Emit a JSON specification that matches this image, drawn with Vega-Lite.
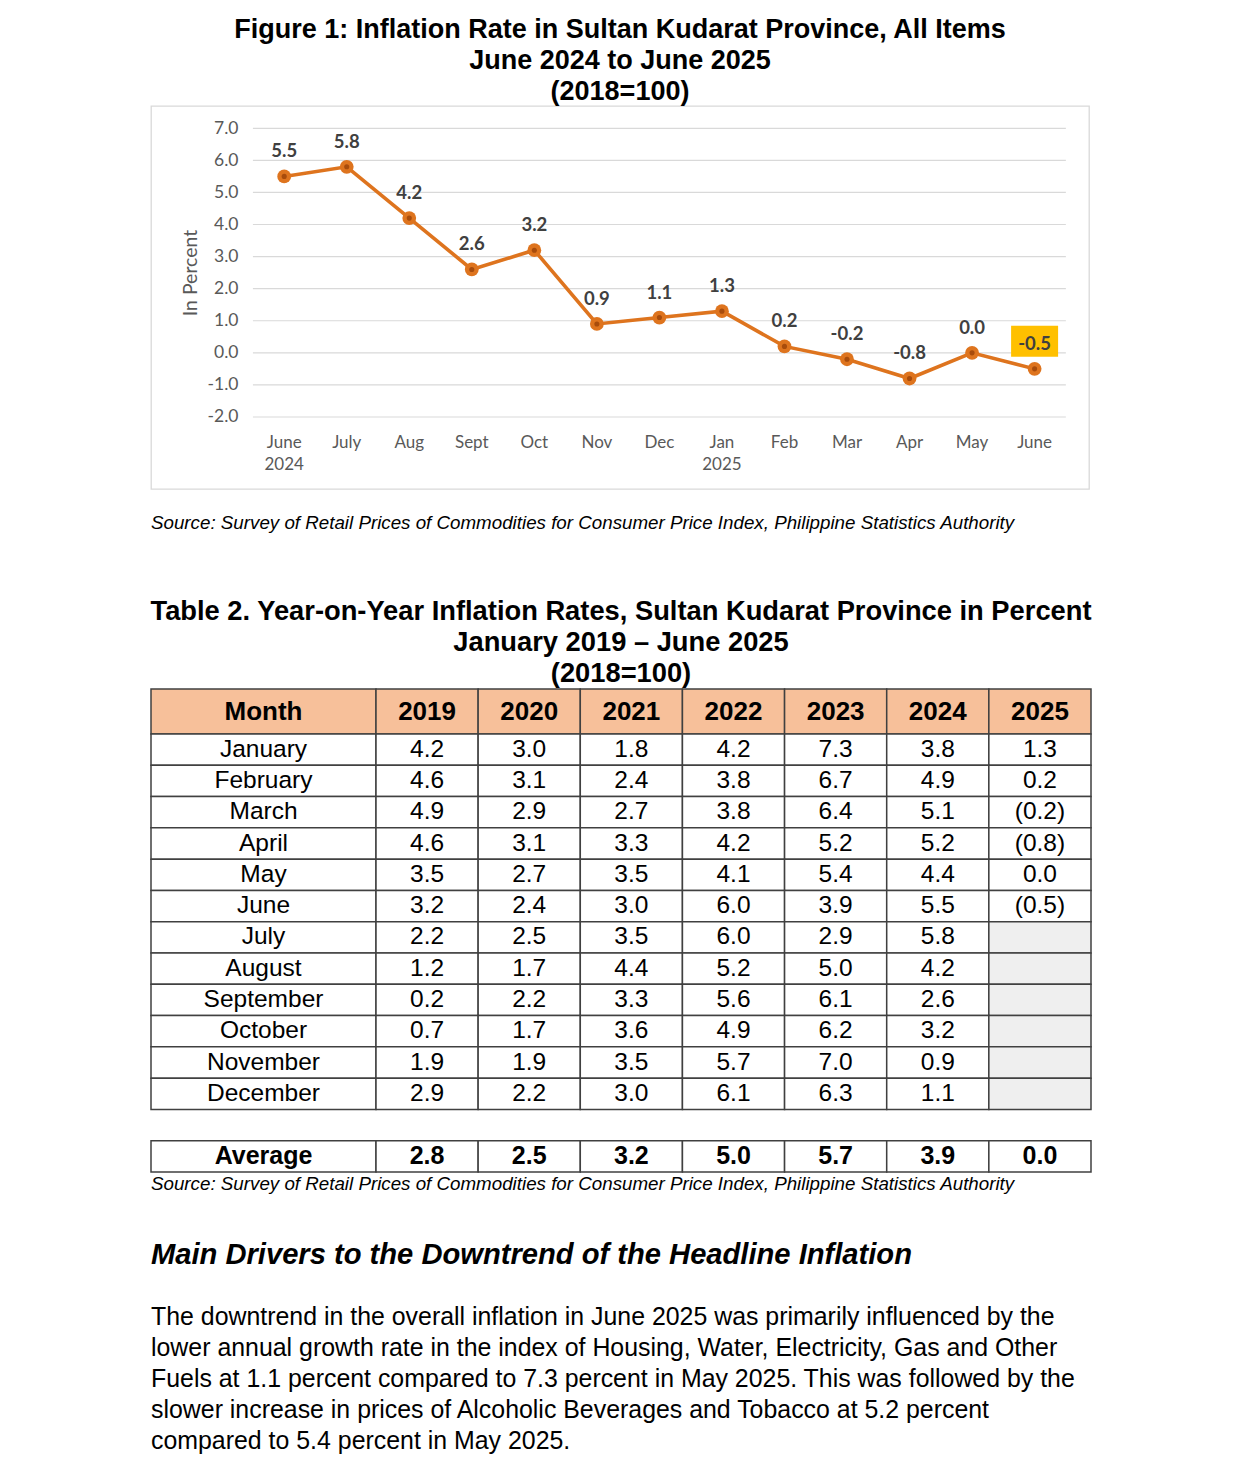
{
  "$schema": "https://vega.github.io/schema/vega-lite/v6.json",
  "background": "white",
  "padding": {"left": 150, "top": 14, "right": 0, "bottom": 0},
  "spacing": 0,
  "config": {
    "view": {"stroke": null},
    "locale": {"number": {"decimal": ".", "thousands": ",", "grouping": [3], "currency": ["$", ""], "minus": "-"}}
  },
  "datasets": {
    "chart": [
      {"m": "June|2024", "v": 5.5}, {"m": "July", "v": 5.8}, {"m": "Aug", "v": 4.2},
      {"m": "Sept", "v": 2.6}, {"m": "Oct", "v": 3.2}, {"m": "Nov", "v": 0.9},
      {"m": "Dec", "v": 1.1}, {"m": "Jan|2025", "v": 1.3}, {"m": "Feb", "v": 0.2},
      {"m": "Mar", "v": -0.2}, {"m": "Apr", "v": -0.8}, {"m": "May", "v": 0.0},
      {"m": "June", "v": -0.5}
    ],
    "table": [
      {"Month": "January", "2019": 4.2, "2020": 3.0, "2021": 1.8, "2022": 4.2, "2023": 7.3, "2024": 3.8, "2025": 1.3},
      {"Month": "February", "2019": 4.6, "2020": 3.1, "2021": 2.4, "2022": 3.8, "2023": 6.7, "2024": 4.9, "2025": 0.2},
      {"Month": "March", "2019": 4.9, "2020": 2.9, "2021": 2.7, "2022": 3.8, "2023": 6.4, "2024": 5.1, "2025": -0.2},
      {"Month": "April", "2019": 4.6, "2020": 3.1, "2021": 3.3, "2022": 4.2, "2023": 5.2, "2024": 5.2, "2025": -0.8},
      {"Month": "May", "2019": 3.5, "2020": 2.7, "2021": 3.5, "2022": 4.1, "2023": 5.4, "2024": 4.4, "2025": 0.0},
      {"Month": "June", "2019": 3.2, "2020": 2.4, "2021": 3.0, "2022": 6.0, "2023": 3.9, "2024": 5.5, "2025": -0.5},
      {"Month": "July", "2019": 2.2, "2020": 2.5, "2021": 3.5, "2022": 6.0, "2023": 2.9, "2024": 5.8, "2025": null},
      {"Month": "August", "2019": 1.2, "2020": 1.7, "2021": 4.4, "2022": 5.2, "2023": 5.0, "2024": 4.2, "2025": null},
      {"Month": "September", "2019": 0.2, "2020": 2.2, "2021": 3.3, "2022": 5.6, "2023": 6.1, "2024": 2.6, "2025": null},
      {"Month": "October", "2019": 0.7, "2020": 1.7, "2021": 3.6, "2022": 4.9, "2023": 6.2, "2024": 3.2, "2025": null},
      {"Month": "November", "2019": 1.9, "2020": 1.9, "2021": 3.5, "2022": 5.7, "2023": 7.0, "2024": 0.9, "2025": null},
      {"Month": "December", "2019": 2.9, "2020": 2.2, "2021": 3.0, "2022": 6.1, "2023": 6.3, "2024": 1.1, "2025": null},
      {"Month": "Average", "2019": 2.8, "2020": 2.5, "2021": 3.2, "2022": 5.0, "2023": 5.7, "2024": 3.9, "2025": 0.0}
    ]
  },
  "vconcat": [
    {
      "width": 938,
      "height": 383,
      "view": {"stroke": "#D9D9D9", "strokeWidth": 1.3},
      "title": {
        "text": ["Figure 1: Inflation Rate in Sultan Kudarat Province, All Items", "June 2024 to June 2025", "(2018=100)"],
        "font": "Liberation Sans", "fontSize": 27, "fontWeight": "bold", "color": "#000000",
        "lineHeight": 31, "anchor": "middle", "frame": "group", "offset": 0.5
      },
      "data": {"name": "chart"},
      "encoding": {
        "x": {
          "field": "m", "type": "ordinal", "sort": null,
          "scale": {
            "domain": ["June|2024", "July", "Aug", "Sept", "Oct", "Nov", "Dec", "Jan|2025", "Feb", "Mar", "Apr", "May", "June"],
            "paddingInner": 0, "paddingOuter": 1.045, "align": 0.815, "round": false
          },
          "axis": {
            "orient": "bottom", "offset": -72, "domain": false, "ticks": false, "tickSize": 0, "grid": false,
            "labelPadding": 17, "labelAngle": 0, "labelExpr": "split(datum.value, '|')",
            "labelFont": "Lato", "labelFontSize": 17, "labelColor": "#595959", "labelLineHeight": 22,
            "title": null
          }
        },
        "y": {
          "field": "v", "type": "quantitative",
          "scale": {"domain": [-4.245, 7.695], "nice": false, "zero": false},
          "axis": {
            "values": [-2, -1, 0, 1, 2, 3, 4, 5, 6, 7], "format": ".1f", "offset": -106,
            "domain": false, "ticks": false, "tickSize": 0, "grid": false, "labelPadding": 19,
            "labelFont": "Lato", "labelFontSize": 17.5, "labelColor": "#595959",
            "title": "In Percent", "titleFont": "Lato", "titleFontSize": 19.5, "titleFontWeight": "normal",
            "titleColor": "#595959", "titlePadding": 7, "titleY": 166.5
          }
        }
      },
      "layer": [
        {
          "data": {"values": [{"v": -2}, {"v": -1}, {"v": 0}, {"v": 1}, {"v": 2}, {"v": 3}, {"v": 4}, {"v": 5}, {"v": 6}, {"v": 7}]},
          "mark": {"type": "rule", "color": "#D9D9D9", "strokeWidth": 1.2},
          "encoding": {
            "x": {"datum": "June|2024", "type": "ordinal", "bandPosition": 0},
            "x2": {"datum": "June", "bandPosition": 1}
          }
        },
        {"mark": {"type": "line", "color": "#DE741E", "strokeWidth": 3.6}},
        {"mark": {"type": "circle", "size": 190, "color": "#DE741E", "opacity": 1}},
        {"mark": {"type": "circle", "size": 26, "color": "#A84C0C", "opacity": 1}},
        {
          "transform": [{"filter": "datum.m === 'June'"}],
          "mark": {"type": "point", "shape": "M-23.5,-43H23.5V-12H-23.5Z", "size": 4, "filled": true, "color": "#FFC000", "opacity": 1}
        },
        {
          "mark": {"type": "text", "dy": -25, "font": "Lato", "fontSize": 18.5, "fontWeight": "bold", "color": "#404040", "baseline": "middle"},
          "encoding": {"text": {"field": "v", "type": "quantitative", "format": ".1f"}}
        }
      ]
    },
    {
      "width": 940, "height": 24,
      "data": {"values": []}, "mark": "text", "encoding": {}
    },
    {
      "width": 940, "height": 63.5,
      "title": {
        "text": "Source: Survey of Retail Prices of Commodities for Consumer Price Index, Philippine Statistics Authority",
        "font": "Liberation Sans", "fontSize": 18.75, "fontStyle": "italic", "fontWeight": "normal", "color": "#000000",
        "anchor": "start", "frame": "group", "offset": 0
      },
      "data": {"values": []}, "mark": "text", "encoding": {}
    },
    {
      "width": 940, "height": 0.5,
      "title": {
        "text": ["Table 2. Year-on-Year Inflation Rates, Sultan Kudarat Province in Percent", "January 2019 – June 2025", "(2018=100)"],
        "font": "Liberation Sans", "fontSize": 27.3, "fontWeight": "bold", "color": "#000000",
        "lineHeight": 31, "anchor": "middle", "frame": "group", "offset": 0
      },
      "data": {"values": []}, "mark": "text", "encoding": {}
    },
    {
      "columns": 2,
      "spacing": 0,
      "bounds": "flush",
      "concat": [
        {
          "width": 225, "height": 45,
          "data": {"values": [{"h": "Month"}]},
          "layer": [
            {"mark": {"type": "rect", "fill": "#F7C09A", "stroke": "#404040", "strokeWidth": 1.5}, "encoding": {}},
            {"mark": {"type": "text", "font": "Liberation Sans", "fontSize": 26, "fontWeight": "bold", "color": "#000000"},
             "encoding": {"text": {"field": "h", "type": "nominal"}}}
          ]
        },
        {
          "width": 715, "height": 45,
          "data": {"name": "table"},
          "transform": [
            {"fold": ["2019", "2020", "2021", "2022", "2023", "2024", "2025"], "as": ["year", "value"]},
            {"aggregate": [{"op": "count", "as": "n"}], "groupby": ["year"]}
          ],
          "encoding": {
            "x": {"field": "year", "type": "ordinal", "sort": ["2019", "2020", "2021", "2022", "2023", "2024", "2025"],
                  "scale": {"paddingInner": 0, "paddingOuter": 0}, "axis": null}
          },
          "layer": [
            {"mark": {"type": "rect", "fill": "#F7C09A", "stroke": "#404040", "strokeWidth": 1.5}},
            {"mark": {"type": "text", "font": "Liberation Sans", "fontSize": 26, "fontWeight": "bold", "color": "#000000"},
             "encoding": {"text": {"field": "year", "type": "nominal"}}}
          ]
        },
        {
          "width": 225, "height": 438,
          "data": {"name": "table"},
          "encoding": {
            "y": {"field": "Month", "type": "ordinal", "sort": null,
                  "scale": {"domain": ["January", "February", "March", "April", "May", "June", "July", "August", "September", "October", "November", "December", " ", "Average"],
                            "paddingInner": 0, "paddingOuter": 0}, "axis": null}
          },
          "layer": [
            {"mark": {"type": "rect", "fill": "#FFFFFF", "stroke": "#404040", "strokeWidth": 1.5}},
            {"transform": [{"filter": "datum.Month !== 'Average'"}],
             "mark": {"type": "text", "font": "Liberation Sans", "fontSize": 24.5, "color": "#000000"},
             "encoding": {"text": {"field": "Month", "type": "nominal"}}},
            {"transform": [{"filter": "datum.Month === 'Average'"}],
             "mark": {"type": "text", "font": "Liberation Sans", "fontSize": 25, "fontWeight": "bold", "color": "#000000"},
             "encoding": {"text": {"field": "Month", "type": "nominal"}}}
          ]
        },
        {
          "width": 715, "height": 438,
          "data": {"name": "table"},
          "transform": [
            {"fold": ["2019", "2020", "2021", "2022", "2023", "2024", "2025"], "as": ["year", "value"]}
          ],
          "encoding": {
            "x": {"field": "year", "type": "ordinal", "sort": ["2019", "2020", "2021", "2022", "2023", "2024", "2025"],
                  "scale": {"paddingInner": 0, "paddingOuter": 0}, "axis": null},
            "y": {"field": "Month", "type": "ordinal", "sort": null,
                  "scale": {"domain": ["January", "February", "March", "April", "May", "June", "July", "August", "September", "October", "November", "December", " ", "Average"],
                            "paddingInner": 0, "paddingOuter": 0}, "axis": null}
          },
          "layer": [
            {"mark": {"type": "rect", "stroke": "#404040", "strokeWidth": 1.5},
             "encoding": {"fill": {"condition": {"test": "datum.value == null", "value": "#EFEFEF"}, "value": "#FFFFFF"}}},
            {"transform": [{"filter": "datum.Month !== 'Average' && datum.value != null"}],
             "mark": {"type": "text", "font": "Liberation Sans", "fontSize": 24.5, "color": "#000000"},
             "encoding": {"text": {"field": "value", "type": "quantitative", "format": "(.1f"}}},
            {"transform": [{"filter": "datum.Month === 'Average'"}],
             "mark": {"type": "text", "font": "Liberation Sans", "fontSize": 25, "fontWeight": "bold", "color": "#000000"},
             "encoding": {"text": {"field": "value", "type": "quantitative", "format": "(.1f"}}}
          ]
        }
      ]
    },
    {
      "width": 940, "height": 2,
      "data": {"values": []}, "mark": "text", "encoding": {}
    },
    {
      "width": 940, "height": 46,
      "title": {
        "text": "Source: Survey of Retail Prices of Commodities for Consumer Price Index, Philippine Statistics Authority",
        "font": "Liberation Sans", "fontSize": 18.75, "fontStyle": "italic", "fontWeight": "normal", "color": "#000000",
        "anchor": "start", "frame": "group", "offset": 0
      },
      "data": {"values": []}, "mark": "text", "encoding": {}
    },
    {
      "width": 940, "height": 34.5,
      "title": {
        "text": "Main Drivers to the Downtrend of the Headline Inflation",
        "font": "Liberation Sans", "fontSize": 29.15, "fontStyle": "italic", "fontWeight": "bold", "color": "#000000",
        "anchor": "start", "frame": "group", "offset": 0
      },
      "data": {"values": []}, "mark": "text", "encoding": {}
    },
    {
      "width": 940, "height": 10,
      "title": {
        "text": [
          "The downtrend in the overall inflation in June 2025 was primarily influenced by the",
          "lower annual growth rate in the index of Housing, Water, Electricity, Gas and Other",
          "Fuels at 1.1 percent compared to 7.3 percent in May 2025. This was followed by the",
          "slower increase in prices of Alcoholic Beverages and Tobacco at 5.2 percent",
          "compared to 5.4 percent in May 2025."
        ],
        "font": "Liberation Sans", "fontSize": 24.9, "fontWeight": "normal", "color": "#000000",
        "lineHeight": 31, "anchor": "start", "frame": "group", "offset": 0
      },
      "data": {"values": []}, "mark": "text", "encoding": {}
    }
  ]
}
